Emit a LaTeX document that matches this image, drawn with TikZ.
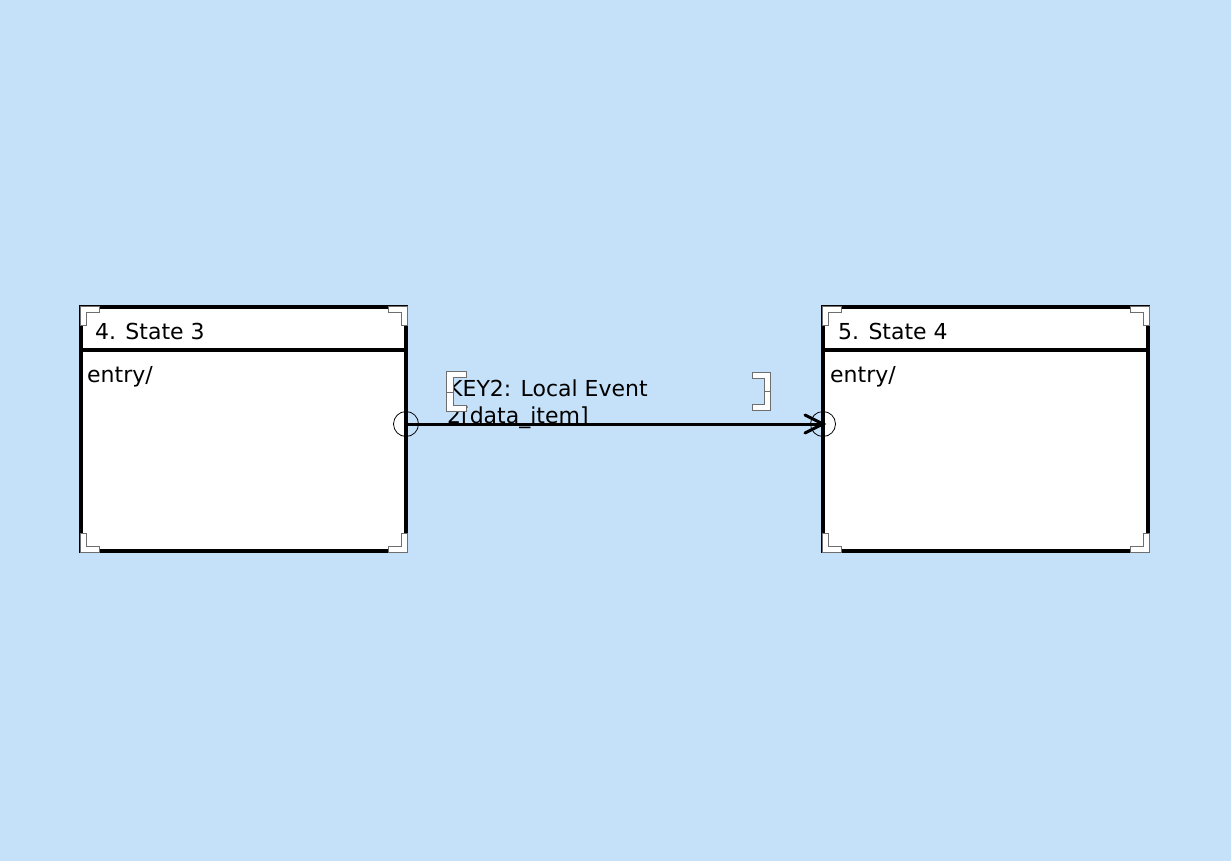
\documentclass[tikz,border=0pt]{standalone}
\usepackage{fontspec}
\setmainfont{DejaVu Sans}
\definecolor{bgblue}{RGB}{197,225,250}
\definecolor{markgray}{RGB}{110,110,110}
\tikzset{
  statebox/.style={draw=black, line width=3.2pt, fill=white, rectangle, inner sep=0pt, minimum width=325pt, minimum height=244pt},
  txt/.style={inner sep=0pt, anchor=base west, font=\fontsize{22}{27}\selectfont, text=black},
  cornermark/.style={draw=markgray, line width=0.8pt, fill=white},
  portcircle/.style={draw=black, line width=0.8pt, circle, minimum size=25pt, inner sep=0pt},
  transarrow/.style={draw=black, line width=3pt},
  bracketmark/.style={draw=markgray, line width=0.8pt, fill=white},
}
\newcommand{\cornersTL}[2]{\path[cornermark] (#1,#2) -- ++(19,0) -- ++(0,6) -- ++(-13,0) -- ++(0,13) -- ++(-6,0) -- cycle;}
\newcommand{\cornersTR}[2]{\path[cornermark] (#1,#2) -- ++(-19,0) -- ++(0,6) -- ++(13,0) -- ++(0,13) -- ++(6,0) -- cycle;}
\newcommand{\cornersBL}[2]{\path[cornermark] (#1,#2) -- ++(19,0) -- ++(0,-6) -- ++(-13,0) -- ++(0,-13) -- ++(-6,0) -- cycle;}
\newcommand{\cornersBR}[2]{\path[cornermark] (#1,#2) -- ++(-19,0) -- ++(0,-6) -- ++(13,0) -- ++(0,-13) -- ++(6,0) -- cycle;}
\begin{document}
\begin{tikzpicture}[x=1pt, y=-1pt]
\path[fill=bgblue] (0,0) rectangle (1231,861);
\useasboundingbox (0,0) rectangle (1231,861);

% states
\node[statebox] (s3) at (243.5,429) {};
\node[statebox] (s4) at (985.5,429) {};
\draw[black, line width=3.2pt] (s3.west |- 0,350) -- (s3.east |- 0,350);
\draw[black, line width=3.2pt] (s4.west |- 0,350) -- (s4.east |- 0,350);

\node[txt] (s3title) at (95,339) {4. State 3};
\node[txt] (s3entry) at (87,382) {entry/};
\node[txt] (s4title) at (838,339) {5. State 4};
\node[txt] (s4entry) at (830,382) {entry/};

% corner marks
\cornersTL{80}{306}\cornersTR{407}{306}\cornersBL{80}{552}\cornersBR{407}{552}
\cornersTL{822}{306}\cornersTR{1149}{306}\cornersBL{822}{552}\cornersBR{1149}{552}

% transition label
\node[txt] (lab1) at (448,396) {KEY2: Local Event};
\node[txt] (lab2) at (447,423) {2[data\_item]};

% ports
\node[portcircle] (p3) at (406,424) {};
\node[portcircle] (p4) at (823,424) {};

% transition
\draw[transarrow] (p3.center) -- (p4.center);
\draw[transarrow, line cap=round] (805,415) -- (p4.center) -- (805,433);

% label brackets
\path[bracketmark] (446,371) -- (466,371) -- (466,377) -- (453,377) -- (453,405) -- (466,405) -- (466,411) -- (446,411) -- cycle;
\draw[markgray, line width=0.8pt] (446,392) -- (453,392);
\path[bracketmark] (770,372) -- (752,372) -- (752,378) -- (764,378) -- (764,404) -- (752,404) -- (752,410) -- (770,410) -- cycle;
\draw[markgray, line width=0.8pt] (764,391) -- (770,391);
\end{tikzpicture}
\end{document}
